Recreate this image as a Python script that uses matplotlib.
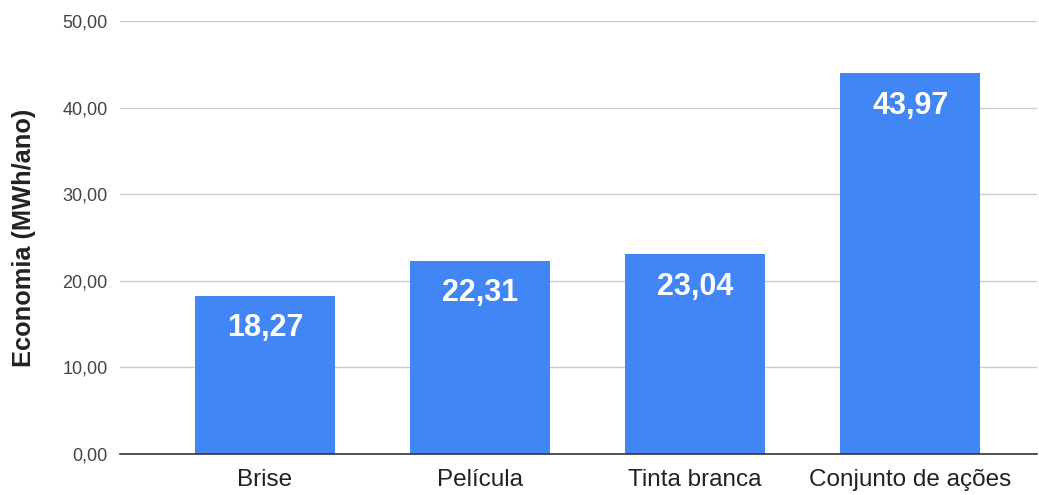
import matplotlib
matplotlib.use("Agg")
import matplotlib.pyplot as plt
from matplotlib.ticker import FuncFormatter

categories = ["Brise", "Película", "Tinta branca", "Conjunto de ações"]
values = [18.27, 22.31, 23.04, 43.97]
y_ticks = [0, 10, 20, 30, 40, 50]

plt.rcParams["font.family"] = ["Liberation Sans", "DejaVu Sans"]

fig = plt.figure(figsize=(10.39, 4.95), dpi=100)
ax = fig.add_axes([0.1155, 0.0828, 0.8825, 0.8748])

x = list(range(len(categories)))
bars = ax.bar(x, values, width=0.65, color="#4285F4", zorder=3)

for xi, v in zip(x, values):
    ax.annotate(f"{v:.2f}".replace(".", ","), xy=(xi, v), xytext=(0, -23.5),
                textcoords="offset points", ha="center", va="center",
                color="white", fontsize=22, fontweight="bold", zorder=4)

ax.set_xlim(-0.674, 3.589)
ax.set_ylim(0, 50)
ax.set_yticks(y_ticks)
ax.yaxis.set_major_formatter(FuncFormatter(lambda v, p: f"{v:.2f}".replace(".", ",")))
ax.set_xticks(x)
ax.set_xticklabels(categories)

ax.grid(axis="y", color="#cccccc", linewidth=1, zorder=0)
ax.tick_params(axis="y", length=0, pad=9, labelsize=13, labelcolor="#444444")
ax.tick_params(axis="x", length=0, pad=11, labelsize=17.5, labelcolor="#222222")

for side in ["top", "right", "left"]:
    ax.spines[side].set_visible(False)
ax.spines["bottom"].set_color("#333333")
ax.spines["bottom"].set_linewidth(1.2)
ax.spines["bottom"].set_zorder(5)

ax.set_ylabel("Economia (MWh/ano)", fontsize=18.3, fontweight="bold", color="#222222", labelpad=19)

fig.savefig("out.png", dpi=100, facecolor="white")
